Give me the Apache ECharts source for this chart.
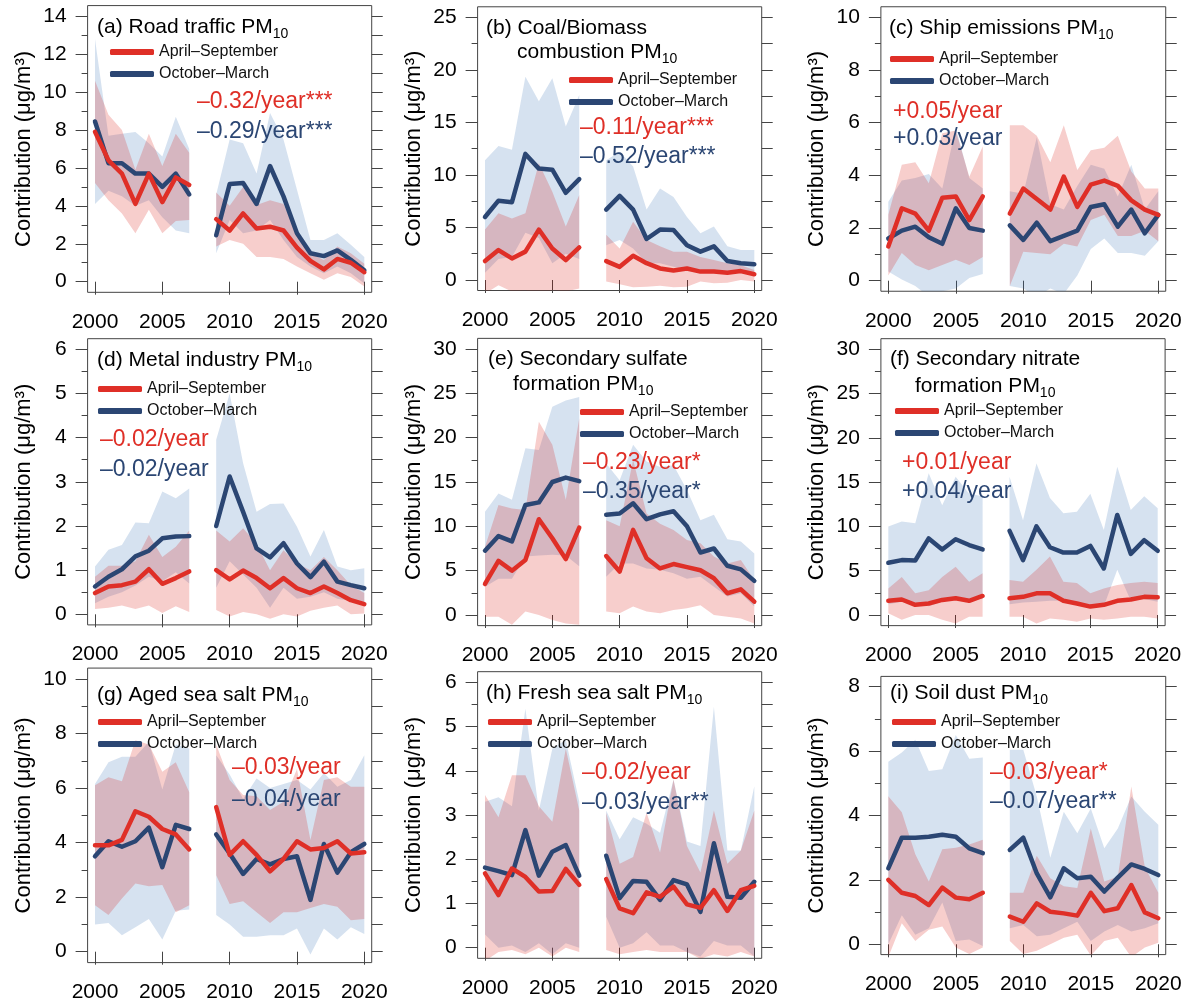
<!DOCTYPE html>
<html><head><meta charset="utf-8">
<script src="https://cdn.jsdelivr.net/npm/echarts@6/dist/echarts.min.js"></script>
<style>html,body{margin:0;padding:0;background:#fff}#c{width:1192px;height:1005px}</style>
</head><body><div id="c"></div>
<script>
// ---------------- DATA ----------------
const years = [2000,2001,2002,2003,2004,2005,2006,2007,2008,2009,2010,2011,2012,2013,2014,2015,2016,2017,2018,2019,2020];
const xTicks = [2000,2005,2010,2015,2020];
const seriesNames = ['April–September','October–March'];

// (a) Road traffic
const aRed    = [7.9,6.4,5.7,4.1,5.7,4.2,5.5,5.1,null,3.3,2.7,3.6,2.8,2.9,2.7,1.8,1.1,0.65,1.2,1.0,0.5];
const aBlue   = [8.45,6.25,6.25,5.7,5.7,5.0,5.7,4.6,null,2.45,5.15,5.2,4.1,6.1,4.5,2.55,1.5,1.35,1.65,1.15,0.6];
const aRedLo  = [5.2,4.3,3.6,2.55,3.8,2.55,3.2,3.25,null,1.85,2.2,2.0,1.3,1.3,1.2,0.8,0.45,0.1,0.45,0.25,-0.25];
const aRedHi  = [10.6,8.8,8.0,5.9,7.8,6.1,7.8,6.8,null,4.7,4.0,5.0,4.05,4.3,4.1,2.55,1.5,1.15,1.85,1.5,0.95];
const aBlueLo = [4.1,4.8,4.5,4.0,4.3,3.4,2.7,2.55,null,1.5,3.25,2.55,2.7,3.25,2.2,1.3,0.8,0.45,0.8,0.45,-0.1];
const aBlueHi = [12.8,7.7,7.8,7.9,7.3,6.6,8.7,7.0,null,4.6,7.5,7.3,5.7,8.9,7.5,4.85,2.2,2.2,2.55,1.95,1.3];
const aTicks  = [0,2,4,6,8,10,12,14];

// (b) Coal/Biomass combustion
const bRed    = [1.8,2.85,2.05,2.7,4.8,3.0,1.9,3.1,null,1.8,1.25,2.3,1.6,1.1,0.9,1.1,0.8,0.8,0.7,0.85,0.55];
const bBlue   = [6.0,7.55,7.4,12.0,10.6,10.5,8.3,9.6,null,6.7,8.0,6.7,3.9,4.8,4.75,3.3,2.7,3.2,1.8,1.6,1.5];
const bRedLo  = [-1.3,-0.5,-1.1,-1.0,-1.3,-1.0,-1.1,-0.8,null,-0.15,-0.4,-0.7,-0.65,-0.55,-0.7,-0.65,-0.15,-0.3,-0.25,0,-0.15];
const bRedHi  = [4.8,6.35,5.85,6.35,11.1,8.4,5.1,8.1,null,4.3,3.0,5.55,3.8,3.2,2.7,2.7,2.2,1.9,1.6,1.4,0.95];
const bBlueLo = [0.7,2.0,2.2,4.5,4.0,1.6,2.5,2.0,null,3.3,3.8,3.0,1.6,1.6,1.25,0.95,0.8,0.95,0.8,0.65,0.5];
const bBlueHi = [11.4,12.75,12.4,19.35,17.0,19.2,14.6,17.6,null,11.4,12.2,10.8,6.7,8.7,7.9,6.0,4.45,5.1,3.2,2.85,2.85];
const bTicks  = [0,5,10,15,20,25];

// (c) Ship emissions
const cRed    = [1.3,2.75,2.55,1.9,3.15,3.2,2.3,3.2,null,2.55,3.5,3.1,2.7,3.95,2.8,3.65,3.8,3.6,3.05,2.7,2.5];
const cBlue   = [1.6,1.9,2.05,1.65,1.4,2.75,2.0,1.9,null,2.1,1.55,2.2,1.5,1.7,1.9,2.8,2.9,2.05,2.7,1.8,2.5];
const cRedLo  = [0.2,1.05,0.6,0.4,0.6,0.8,0.6,0.9,null,-0.2,1.1,1.05,1.0,1.4,1.3,2.3,2.5,1.7,1.7,1.9,1.5];
const cRedHi  = [2.5,4.4,4.5,3.7,5.6,5.7,3.95,5.1,null,5.9,5.9,5.5,4.5,5.9,4.2,4.95,5.05,5.5,4.15,3.5,3.5];
const cBlueLo = [0.35,0.05,-0.2,-0.6,-0.4,-0.3,0.1,0.25,null,-0.2,-0.3,-0.6,-0.3,-0.5,0.2,1.2,1.6,1.05,1.05,0.95,1.5];
const cBlueHi = [3.0,3.8,3.9,4.05,3.5,5.8,3.9,3.5,null,3.4,3.3,5.45,2.9,2.7,3.6,4.4,4.25,3.2,4.4,2.7,3.4];
const cTicks  = [0,2,4,6,8,10];

// (d) Metal industry
const dRed    = [0.48,0.63,0.66,0.74,1.02,0.69,0.82,0.97,null,1.0,0.79,0.99,0.82,0.59,0.82,0.59,0.48,0.63,0.48,0.32,0.23];
const dBlue   = [0.63,0.85,1.02,1.31,1.44,1.72,1.76,1.77,null,2.0,3.12,2.32,1.49,1.29,1.61,1.15,0.84,1.19,0.74,0.66,0.59];
const dRedLo  = [0.12,0.15,0.2,0.12,0.2,0.03,0.18,0.05,null,0.1,-0.05,0.05,0.0,-0.1,0.0,-0.05,0.08,0.15,0.2,0.0,0.02];
const dRedHi  = [0.85,1.1,1.1,1.2,1.8,1.3,1.53,1.9,null,1.9,1.65,1.95,1.6,1.0,1.45,1.15,1.0,1.3,1.0,0.66,0.48];
const dBlueLo = [0.25,0.4,0.5,0.65,0.85,0.75,0.95,0.7,null,0.6,1.2,0.9,0.6,0.15,0.6,0.35,0.4,0.5,0.35,0.3,0.2];
const dBlueHi = [1.08,1.46,1.57,2.08,2.06,2.78,2.63,2.85,null,3.95,5.0,3.42,2.32,2.5,2.51,1.98,1.31,1.91,1.08,1.0,1.04];
const dTicks  = [0,1,2,3,4,5,6];

// (e) Secondary sulfate formation
const eRed    = [3.5,6.1,5.0,6.2,10.8,8.65,6.3,9.85,null,6.65,4.9,9.6,6.4,5.25,5.75,5.4,5.05,4.15,2.45,2.9,1.5];
const eBlue   = [7.25,8.9,8.3,12.4,12.7,15.0,15.5,15.1,null,11.3,11.45,12.6,10.8,11.35,11.7,10.0,7.05,7.5,5.55,5.15,3.85];
const eRedLo  = [-0.2,-0.2,-1.1,0.4,0,-0.55,-0.95,-1.1,null,0.4,0.2,0.95,0.4,0.2,0.55,0.75,1.1,0,-0.2,-0.4,-0.95];
const eRedHi  = [7.7,12.4,12.0,11.85,21.8,19.2,13.0,22.2,null,10.7,10.0,17.5,11.45,10.3,9.6,8.45,8.1,6.6,5.8,6.2,3.95];
const eBlueLo = [3.2,4.1,4.1,6.6,6.7,6.8,6.7,5.5,null,4.3,5.8,5.8,5.25,5.1,4.7,4.1,4.3,3.2,2.1,2.45,0.95];
const eBlueHi = [11.65,13.7,13.0,18.8,18.6,23.5,24.2,24.6,null,17.1,15.2,19.2,17.3,16.7,16.9,14.1,10.7,11.3,8.55,8.3,6.95];
const eTicks  = [0,5,10,15,20,25,30];

// (f) Secondary nitrate formation
const fRed    = [1.6,1.75,1.15,1.3,1.7,1.9,1.6,2.15,null,1.9,2.05,2.45,2.45,1.6,1.3,0.95,1.15,1.6,1.75,2.05,2.0];
const fBlue   = [5.9,6.2,6.15,8.65,7.4,8.55,7.9,7.4,null,9.5,6.2,10.0,7.65,7.05,7.05,7.8,5.25,11.3,6.9,8.45,7.25];
const fRedLo  = [0.2,-0.55,0,0,-0.55,-0.95,-0.2,-0.2,null,-0.2,-0.2,-0.95,-0.4,-0.55,-0.75,-0.4,-0.55,-0.4,-0.2,-0.2,-0.4];
const fRedHi  = [3.0,4.3,2.45,2.8,4.3,5.45,3.75,4.7,null,3.95,3.75,5.1,6.6,3.75,3.6,2.45,3.0,3.4,3.6,3.75,3.6];
const fBlueLo = [1.2,1.5,1.3,1.0,1.5,2.0,1.8,1.8,null,1.2,1.4,1.5,1.6,1.6,1.3,1.0,1.0,5.1,1.6,1.8,1.5];
const fBlueHi = [10.0,10.55,10.35,16.0,12.4,15.6,13.7,13.4,null,15.6,10.7,17.1,13.2,11.5,11.65,13.7,9.6,16.75,11.85,13.4,12.05];
const fTicks  = [0,5,10,15,20,25,30];

// (g) Aged sea salt
const gRed    = [3.9,3.9,4.1,5.15,4.95,4.5,4.3,3.75,null,5.3,3.55,4.05,3.55,2.95,3.4,4.05,3.75,3.8,4.05,3.6,3.65];
const gBlue   = [3.5,4.05,3.85,4.05,4.55,3.1,4.65,4.5,null,4.3,3.6,2.85,3.4,3.2,3.4,3.5,1.9,3.95,2.9,3.65,3.95];
const gRedLo  = [1.7,1.35,1.95,2.5,2.4,2.45,1.45,1.7,null,2.8,1.75,1.85,1.45,1.05,1.45,1.45,1.6,1.75,1.65,1.15,1.2];
const gRedHi  = [6.1,6.4,6.25,7.75,7.6,6.6,6.95,5.85,null,7.6,6.3,5.75,5.7,5.2,5.5,6.7,4.1,6.3,6.4,6.05,6.05];
const gBlueLo = [1.0,1.05,0.6,0.9,1.2,0.45,1.5,1.55,null,1.35,1.0,0.55,0.55,0.6,0.6,0.85,-0.1,0.85,0.45,0.9,0.65];
const gBlueHi = [6.15,6.95,7.15,7.15,7.7,5.95,7.6,7.45,null,7.2,6.5,5.6,6.35,6.0,6.15,6.3,5.95,6.55,6.05,6.3,7.2];
const gTicks  = [0,2,4,6,8,10];

// (h) Fresh sea salt
const hRed    = [1.68,1.19,1.79,1.6,1.27,1.28,1.78,1.42,null,1.55,0.89,0.78,1.25,1.15,1.38,0.98,0.9,1.3,0.83,1.3,1.4];
const hBlue   = [1.81,1.73,1.64,2.66,1.63,2.17,2.32,1.63,null,2.08,1.12,1.51,1.49,1.08,1.53,1.43,0.81,2.36,1.15,1.13,1.49];
const hRedLo  = [-0.3,-0.1,-0.05,-0.15,0.0,-0.2,0.0,-0.1,null,-0.05,-0.15,-0.1,-0.05,-0.1,-0.1,-0.1,-0.25,-0.15,-0.2,-0.1,-0.2];
const hRedHi  = [3.45,2.95,3.9,3.9,3.2,2.85,4.5,3.1,null,3.05,1.9,2.05,3.05,2.15,3.8,2.3,1.7,3.1,1.9,2.2,3.1];
const hBlueLo = [0.3,0.0,0.05,-0.1,0.1,-0.15,0.1,0.0,null,0.7,0.0,0.1,0.35,0.05,0.05,-0.1,-0.2,0.15,0.05,0.05,-0.2];
const hBlueHi = [3.3,3.4,3.2,5.4,3.1,4.5,4.7,3.3,null,3.1,2.45,2.95,2.8,2.6,3.8,2.4,2.3,5.45,2.2,2.2,3.65];
const hTicks  = [0,1,2,3,4,5,6];

// (i) Soil dust
const iRed    = [2.0,1.6,1.5,1.22,1.76,1.45,1.4,1.6,null,0.86,0.7,1.27,1.01,0.96,0.89,1.6,1.03,1.12,1.84,0.99,0.81];
const iBlue   = [2.36,3.31,3.31,3.34,3.4,3.34,2.98,2.83,null,2.93,3.31,2.2,1.46,2.36,2.05,2.1,1.64,2.07,2.48,2.34,2.15];
const iRedLo  = [-0.4,0.65,0.1,0.45,0.55,-0.1,-0.3,-0.1,null,0.1,-0.3,-0.2,0.0,0.2,0.3,-0.35,0.1,0.2,-0.4,-0.1,0.05];
const iRedHi  = [4.6,4.1,2.8,1.95,2.95,3.0,3.1,3.25,null,1.6,1.6,2.75,2.05,1.8,1.75,3.6,1.95,2.1,4.9,2.4,1.6];
const iBlueLo = [0.0,0.9,0.3,0.5,1.3,0.1,0.15,-0.05,null,0.5,0.6,0.25,0.3,0.5,0.7,0.1,0.4,0.6,0.4,0.5,0.65];
const iBlueHi = [5.67,5.96,6.35,5.38,5.44,6.5,5.76,5.8,null,6.04,6.04,4.59,2.69,4.12,3.45,4.22,2.98,3.6,4.59,4.12,3.71];
const iTicks  = [0,2,4,6,8];

// ---------------- LAYOUT / STYLE ----------------
const FONT = '"Liberation Sans", Arial, Helvetica, sans-serif';
const RED = '#DF2F27', NAVY = '#2B4673';
const RED_BAND = 'rgba(215,10,0,0.2)', BLUE_BAND = 'rgba(50,110,180,0.2)';
const BOX = '#444';

const panels = [
 {d:[aRed,aBlue,aRedLo,aRedHi,aBlueLo,aBlueHi], ticks:aTicks, M:14, minor:1, x2000:95, x2020:364.3, yM:16.2, y0:281.7,
  title:[{t:'(a) Road traffic PM', sub:'10', x:97, y:27}], leg:{x:110, y:52},
  trend:{x:197, y1:102, y2:132, t1:'–0.32/year***', t2:'–0.29/year***'}},
 {d:[bRed,bBlue,bRedLo,bRedHi,bBlueLo,bBlueHi], ticks:bTicks, M:25, minor:2.5, x2000:485, x2020:754.3, yM:17.3, y0:280,
  title:[{t:'(b) Coal/Biomass', x:486, y:28},{t:'combustion PM', sub:'10', x:517, y:52}], leg:{x:569, y:80},
  trend:{x:580, y1:128, y2:157, t1:'–0.11/year***', t2:'–0.52/year***'}},
 {d:[cRed,cBlue,cRedLo,cRedHi,cBlueLo,cBlueHi], ticks:cTicks, M:10, minor:1, x2000:888.3, x2020:1158.3, yM:17.3, y0:280.7,
  title:[{t:'(c) Ship emissions PM', sub:'10', x:889, y:28}], leg:{x:890, y:59},
  trend:{x:893, y1:112, y2:139, t1:'+0.05/year', t2:'+0.03/year'}},
 {d:[dRed,dBlue,dRedLo,dRedHi,dBlueLo,dBlueHi], ticks:dTicks, M:6, minor:0.5, x2000:95, x2020:364.3, yM:349.3, y0:614.3,
  title:[{t:'(d) Metal industry PM', sub:'10', x:97, y:360}], leg:{x:98, y:389},
  trend:{x:100, y1:440, y2:470, t1:'–0.02/year', t2:'–0.02/year'}},
 {d:[eRed,eBlue,eRedLo,eRedHi,eBlueLo,eBlueHi], ticks:eTicks, M:30, minor:2.5, x2000:485, x2020:754.3, yM:349, y0:615,
  title:[{t:'(e) Secondary sulfate', x:488, y:359},{t:'formation PM', sub:'10', x:513, y:384}], leg:{x:580, y:412},
  trend:{x:583, y1:463, y2:492, t1:'–0.23/year*', t2:'–0.35/year*'}},
 {d:[fRed,fBlue,fRedLo,fRedHi,fBlueLo,fBlueHi], ticks:fTicks, M:30, minor:2.5, x2000:888.3, x2020:1157.7, yM:349.3, y0:615,
  title:[{t:'(f) Secondary nitrate', x:890, y:359},{t:'formation PM', sub:'10', x:915, y:386}], leg:{x:895, y:411},
  trend:{x:902, y1:463, y2:492, t1:'+0.01/year', t2:'+0.04/year'}},
 {d:[gRed,gBlue,gRedLo,gRedHi,gBlueLo,gBlueHi], ticks:gTicks, M:10, minor:1, x2000:95, x2020:364.3, yM:679, y0:951.7,
  title:[{t:'(g) Aged sea salt PM', sub:'10', x:97, y:695}], leg:{x:98, y:722},
  trend:{x:232, y1:768, y2:800, t1:'–0.03/year', t2:'–0.04/year'}},
 {d:[hRed,hBlue,hRedLo,hRedHi,hBlueLo,hBlueHi], ticks:hTicks, M:6, minor:0.5, x2000:485, x2020:754.3, yM:682.3, y0:947.7,
  title:[{t:'(h) Fresh sea salt PM', sub:'10', x:486, y:693}], leg:{x:488, y:722},
  trend:{x:582, y1:773, y2:803, t1:'–0.02/year', t2:'–0.03/year**'}},
 {d:[iRed,iBlue,iRedLo,iRedHi,iBlueLo,iBlueHi], ticks:iTicks, M:8, minor:1, x2000:888.3, x2020:1158.3, yM:686.7, y0:944.3,
  title:[{t:'(i) Soil dust PM', sub:'10', x:890, y:693}], leg:{x:892, y:722},
  trend:{x:990, y1:773, y2:802, t1:'–0.03/year*', t2:'–0.07/year**'}}
];

const segments = [[0,7],[9,20]];
function toPts(arr){ return years.map((y,i)=>[y, arr[i]==null ? '-' : arr[i]]); }
function bandRenderer(lo, hi, color){
  return function(params, api){
    const seg = segments[params.dataIndex];
    const top = [], bot = [];
    for (let i = seg[0]; i <= seg[1]; i++) {
      top.push(api.coord([years[i], hi[i]]));
      bot.unshift(api.coord([years[i], lo[i]]));
    }
    return {type:'polygon', shape:{points: top.concat(bot)}, style:{fill: color}};
  };
}
const mctx = document.createElement('canvas').getContext('2d');
function tw(t, size){ mctx.font = size + 'px ' + FONT; return mctx.measureText(t).width; }
function txt(x, y, t, size, color){
  return {type:'text', x:x, y:y, silent:true, z:50,
    style:{text:t, fontSize:size, fontFamily:FONT, fill:color,
      align:'left', verticalAlign:'middle', textAlign:'left', textVerticalAlign:'middle'}};
}
const plain = v => String(Math.round(v * 1000) / 1000);

const grid=[], xAxis=[], yAxis=[], series=[], legend=[], graphic=[];
const XMIN = 1999.45, XMAX = 2020.55;
panels.forEach((p,k)=>{
  const pxyr = (p.x2020 - p.x2000)/20;
  const pu = (p.y0 - p.yM)/p.M;
  const ymin = -0.04*p.M, ymax = 1.04*p.M;
  grid.push({left: p.x2000 - (2000-XMIN)*pxyr, width:(XMAX-XMIN)*pxyr,
    top: p.yM - (ymax-p.M)*pu, height:(ymax-ymin)*pu,
    show:true, borderColor:BOX, borderWidth:1, backgroundColor:'transparent',
    containLabel:false, outerBoundsMode:'none'});
  xAxis.push({type:'value', gridIndex:k, min:XMIN, max:XMAX,
    axisLine:{show:false}, splitLine:{show:false},
    axisTick:{show:true, customValues:xTicks, length:13, lineStyle:{color:BOX}},
    axisLabel:{customValues:xTicks, formatter:plain, fontSize:21, color:'#000', margin:19, fontFamily:FONT}});
  const all = [];
  for (let v = 0; v <= p.M + 1e-9; v += p.minor) all.push(+v.toFixed(3));
  const minorOnly = all.filter(v => p.ticks.indexOf(v) < 0);
  const base = {type:'value', gridIndex:k, min:ymin, max:ymax, axisLine:{show:false}, splitLine:{show:false}};
  yAxis.push(Object.assign({}, base, {position:'left',
    name:'Contribution (μg/m³)', nameLocation:'middle', nameGap:53,
    nameTextStyle:{fontSize:22, color:'#000', fontFamily:FONT},
    axisTick:{show:true, customValues:p.ticks, length:12, lineStyle:{color:BOX}},
    axisLabel:{customValues:p.ticks, formatter:plain, fontSize:21, color:'#000', margin:21, fontFamily:FONT}}));
  yAxis.push(Object.assign({}, base, {position:'left',
    axisTick:{show:true, customValues:minorOnly, length:6, lineStyle:{color:BOX}},
    axisLabel:{show:false}}));
  yAxis.push(Object.assign({}, base, {position:'right',
    axisTick:{show:true, customValues:all, length:11, lineStyle:{color:BOX}},
    axisLabel:{show:false}}));
  const [red, blue, redLo, redHi, blueLo, blueHi] = p.d;
  const yi = 3*k;
  series.push({type:'custom', xAxisIndex:k, yAxisIndex:yi, clip:true, silent:true,
    data:[[2000,0],[2009,0]], renderItem: bandRenderer(blueLo, blueHi, BLUE_BAND)});
  series.push({type:'line', name:seriesNames[1], xAxisIndex:k, yAxisIndex:yi, data:toPts(blue),
    showSymbol:false, symbol:'none', connectNulls:false, silent:true,
    itemStyle:{color:NAVY}, lineStyle:{color:NAVY, width:4.5, cap:'round', join:'round'}});
  series.push({type:'custom', xAxisIndex:k, yAxisIndex:yi, clip:true, silent:true,
    data:[[2000,0],[2009,0]], renderItem: bandRenderer(redLo, redHi, RED_BAND)});
  series.push({type:'line', name:seriesNames[0], xAxisIndex:k, yAxisIndex:yi, data:toPts(red),
    showSymbol:false, symbol:'none', connectNulls:false, silent:true,
    itemStyle:{color:RED}, lineStyle:{color:RED, width:4.5, cap:'round', join:'round'}});
  legend.push({left:p.leg.x, top:p.leg.y - 8, orient:'vertical', itemWidth:44, itemHeight:6,
    itemGap:6, icon:'roundRect', selectedMode:false, padding:0, data:seriesNames,
    textStyle:{fontSize:16, color:'#111', fontFamily:FONT}});
  p.title.forEach(tl=>{
    graphic.push(txt(tl.x, tl.y, tl.t, 21, '#000'));
    if (tl.sub) graphic.push(txt(tl.x + tw(tl.t, 21), tl.y + 7, tl.sub, 14, '#000'));
  });
  graphic.push(txt(p.trend.x, p.trend.y1, p.trend.t1, 23, RED));
  graphic.push(txt(p.trend.x, p.trend.y2, p.trend.t2, 23, NAVY));
});

const chart = echarts.init(document.getElementById('c'), null, {renderer:'canvas', width:1192, height:1005});
chart.setOption({animation:false, backgroundColor:'#fff', textStyle:{fontFamily:FONT},
  grid, xAxis, yAxis, series, legend, graphic});
</script></body></html>
